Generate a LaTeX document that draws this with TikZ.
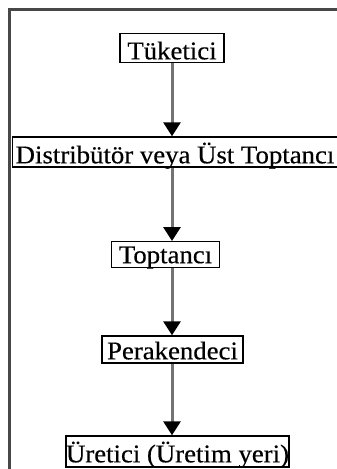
\documentclass[tikz,border=0pt]{standalone}
\usepackage{fontspec}
\setmainfont{Liberation Serif}[FakeStretch=1.05,FakeBold=0.4]
\usetikzlibrary{arrows.meta,calc}
\begin{document}
\begin{tikzpicture}[x=1pt,y=-1pt,
  box/.style={draw=black,line width=1.4pt,inner sep=0pt,text depth=0pt,
    font=\fontsize{25.5}{28}\selectfont},
  flow/.style={draw=black!55,line width=3pt,
    -{Triangle[width=17pt,length=14pt,fill=black,color=black]}},
  frameline/.style={draw=black!72,line width=2.6pt}]
\useasboundingbox (0,0) rectangle (337,469);
\clip (0,0) rectangle (337,469);
\coordinate (fa) at (9.5,470);
\coordinate (fb) at (9.5,9.5);
\coordinate (fc) at (338,9.5);
\draw[frameline] (fa) -- (fb) -- (fc);
\node[box,minimum width=104pt,minimum height=29pt,text height=23pt] (tuk) at (172,47.8) {Tüketici};
\node[box,anchor=west,minimum height=30pt,inner xsep=3pt,text height=22.6pt] (dist) at (12,152) {Distribütör veya Üst Toptancı};
\node[box,minimum width=107.6pt,minimum height=26pt,text height=17pt] (top) at (165.5,254.7) {Toptancı};
\node[box,minimum width=141pt,minimum height=27pt,text height=19.6pt] (per) at (172.5,349.5) {Perakendeci};
\node[box,minimum width=217pt,minimum height=31pt,text height=21.6pt] (ure) at (177.5,451.5) {Üretici (Üretim yeri)};
\draw[flow] (tuk.south) -- (tuk.south |- dist.north);
\draw[flow] (tuk.south |- dist.south) -- (tuk.south |- top.north);
\draw[flow] (tuk.south |- top.south) -- (tuk.south |- per.north);
\draw[flow] (tuk.south |- per.south) -- (tuk.south |- ure.north);
\end{tikzpicture}
\end{document}
